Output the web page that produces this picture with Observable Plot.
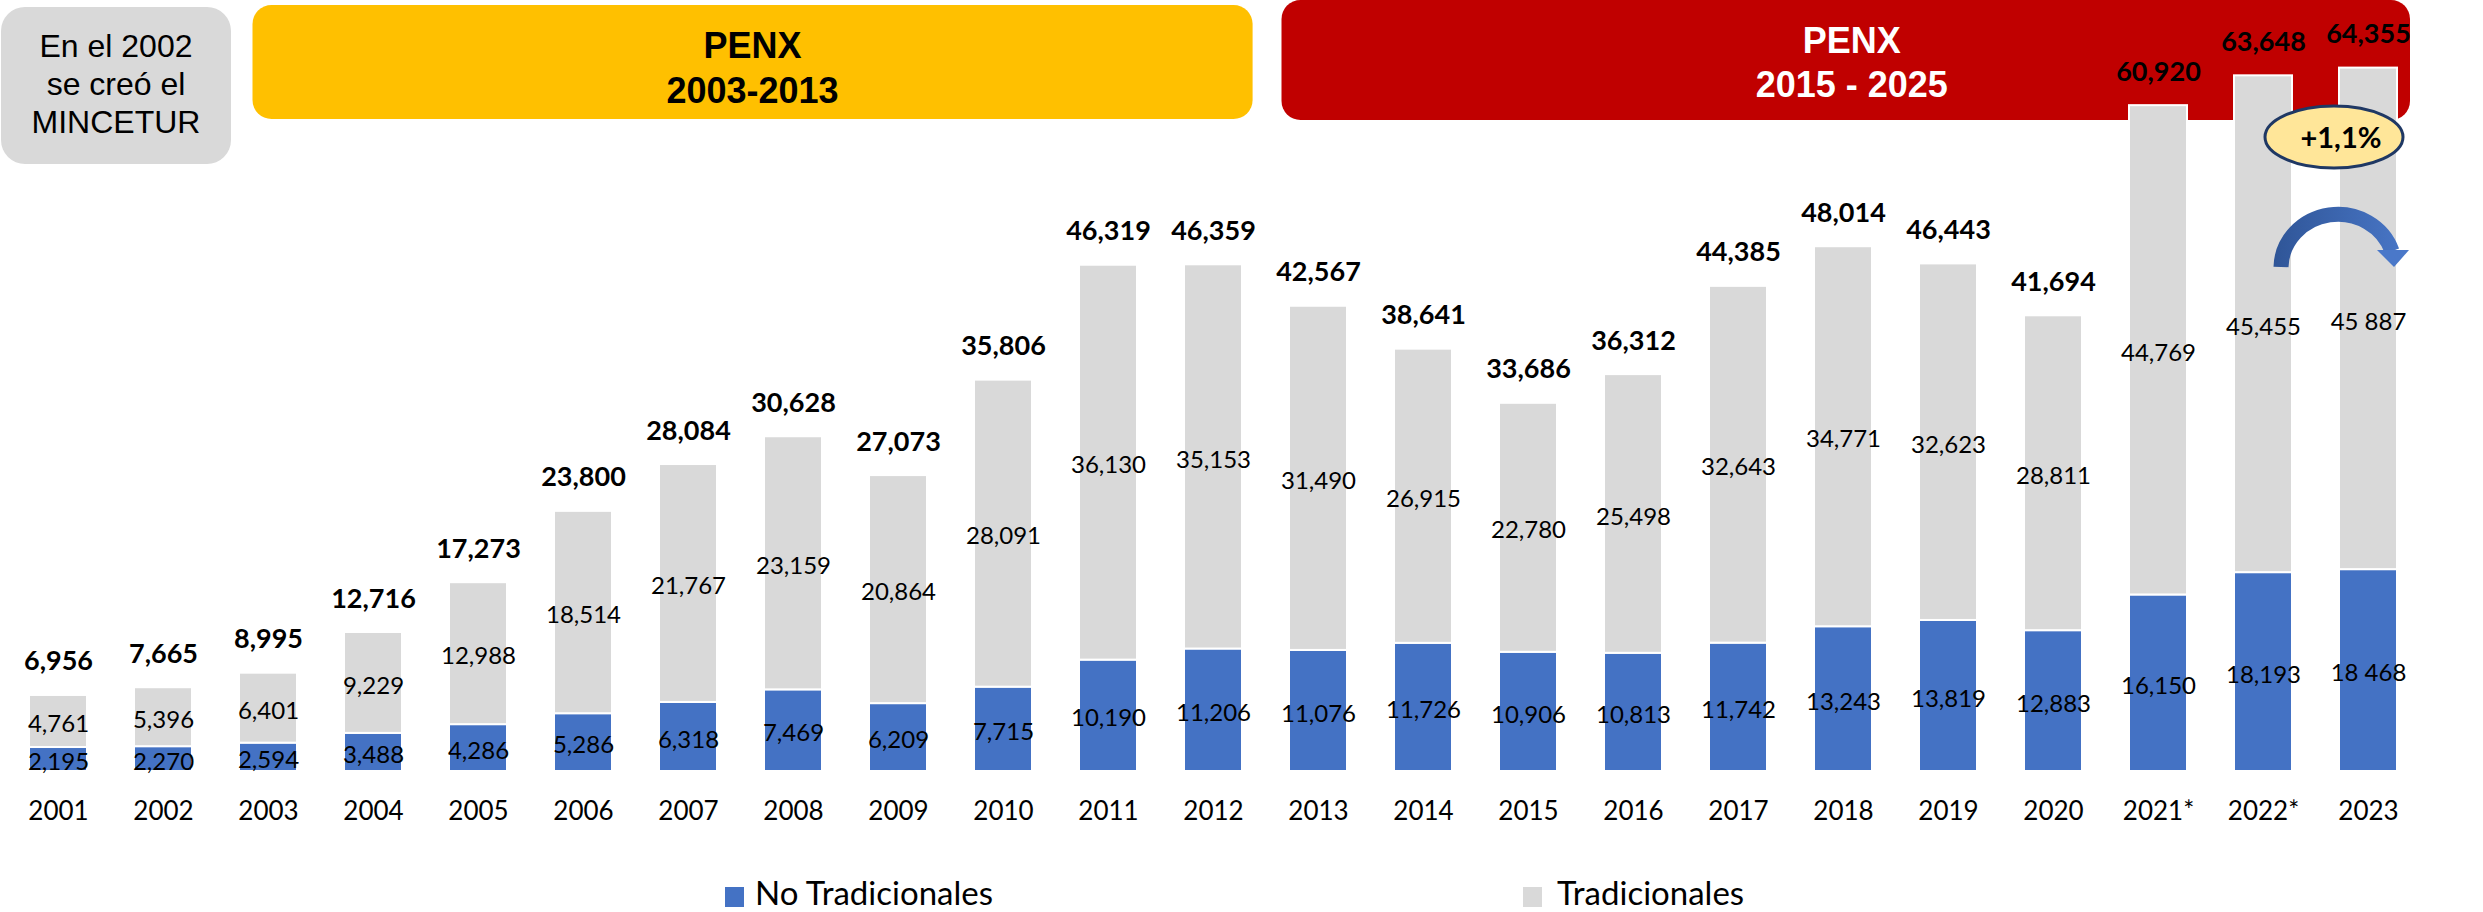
<!DOCTYPE html>
<html><head><meta charset="utf-8">
<script src="https://cdn.jsdelivr.net/npm/d3@7"></script>
<script src="https://cdn.jsdelivr.net/npm/@observablehq/plot@0.6"></script>
<style>
html,body{margin:0;padding:0;background:#fff;}
#wrap{width:2483px;height:912px;position:relative;overflow:hidden;}
#legend{position:relative;width:2483px;height:52px;font-family:Lato, sans-serif;}
.sw{position:absolute;width:19px;height:20px;top:27px;}
.lbl{position:absolute;font-size:33px;line-height:33px;top:16px;white-space:nowrap;color:#000;}
</style></head><body><div id="wrap"></div>
<script>
// ---- data ----
const years = ["2001","2002","2003","2004","2005","2006","2007","2008","2009","2010","2011","2012","2013","2014","2015","2016","2017","2018","2019","2020","2021*","2022*","2023"];
const noTradicionales = [2195,2270,2594,3488,4286,5286,6318,7469,6209,7715,10190,11206,11076,11726,10906,10813,11742,13243,13819,12883,16150,18193,18468];
const tradicionales = [4761,5396,6401,9229,12988,18514,21767,23159,20864,28091,36130,35153,31490,26915,22780,25498,32643,34771,32623,28811,44769,45455,45887];
const totals = [6956,7665,8995,12716,17273,23800,28084,30628,27073,35806,46319,46359,42567,38641,33686,36312,44385,48014,46443,41694,60920,63648,64355];
const seriesNames = ["No Tradicionales","Tradicionales"];
const spaceSeparatedYears = ["2023"];
const note = ["En el 2002","se creó el","MINCETUR"];
const periods = [
  {title:"PENX", range:"2003-2013", from:"2003", to:"2012"},
  {title:"PENX", range:"2015 - 2025", from:"2013", to:"2023"}
];
const changeLabel = "+1,1%";

// ---- styles ----
const colors = ["#4472C4","#D9D9D9"];
const fmt = d3.format(",");
const label = (year, v) => spaceSeparatedYears.includes(year) ? fmt(v).replace(/,/g," ") : fmt(v);

const rows = [];
years.forEach((yr,i)=>{
  rows.push({year:yr, series:seriesNames[0], value:noTradicionales[i], mid:noTradicionales[i]/2, label:label(yr,noTradicionales[i])});
  rows.push({year:yr, series:seriesNames[1], value:tradicionales[i], mid:noTradicionales[i]+tradicionales[i]/2, label:label(yr,tradicionales[i])});
});
const totalRows = years.map((yr,i)=>({year:yr, total:totals[i], label:fmt(totals[i])}));

function bandInfo(scales){
  const sx = scales.x;
  const bw = typeof sx.bandwidth === "function" ? sx.bandwidth() : sx.bandwidth;
  return {sx, bw};
}

function backAnnotations(index, scales){
  const {sx, bw} = bandInfo(scales);
  const g = d3.create("svg:g");
  // MINCETUR note
  const nx0 = sx(years[0]) - 28, nx1 = sx(years[1]) + bw + 39;
  g.append("rect").attr("x",nx0).attr("y",7).attr("width",nx1-nx0).attr("height",157)
    .attr("rx",24).attr("fill","#D9D9D9");
  note.forEach((t,i)=>{
    g.append("text").attr("x",(nx0+nx1)/2).attr("y",57+i*38).attr("text-anchor","middle")
      .attr("font-family","'Liberation Sans', Arial, sans-serif").attr("font-size",32).attr("fill","#000").text(t);
  });
  const styles = [
    {fill:"#FFC000", color:"#000", dx0:13.5, dx1:10.6, y0:5, y1:119, b1:58, b2:103},
    {fill:"#C00000", color:"#fff", dx0:-7.5, dx1:13, y0:0, y1:120, b1:53, b2:97}
  ];
  periods.forEach((p,i)=>{
    const s = styles[i];
    const x0 = sx(p.from) + s.dx0, x1 = sx(p.to) + bw + s.dx1;
    g.append("rect").attr("x",x0).attr("y",s.y0).attr("width",x1-x0).attr("height",s.y1-s.y0)
      .attr("rx",19).attr("fill",s.fill);
    const cx = (x0+x1)/2 + (i===1?6:0);
    [[p.title,s.b1],[p.range,s.b2]].forEach(([t,b])=>{
      g.append("text").attr("x",cx).attr("y",b).attr("text-anchor","middle")
        .attr("font-family","'Liberation Sans', Arial, sans-serif").attr("font-weight","bold")
        .attr("font-size",36).attr("fill",s.color).text(t);
    });
  });
  return g.node();
}

function frontAnnotations(index, scales){
  const {sx, bw} = bandInfo(scales);
  const c = sx(years[years.length-1]) + bw/2;
  const g = d3.create("svg:g");
  const defs = g.append("defs");
  const grad = defs.append("linearGradient").attr("id","arrowGrad")
    .attr("gradientUnits","userSpaceOnUse").attr("x1",c-95).attr("x2",c+45).attr("y1",0).attr("y2",0);
  grad.append("stop").attr("offset","0%").attr("stop-color","#2F5597");
  grad.append("stop").attr("offset","100%").attr("stop-color","#4A78C9");
  // badge
  g.append("ellipse").attr("cx",c-34).attr("cy",137).attr("rx",69).attr("ry",31)
    .attr("fill","#FFE699").attr("stroke","#1F3864").attr("stroke-width",3);
  g.append("text").attr("x",c-27).attr("y",148).attr("text-anchor","middle")
    .attr("font-family","Lato, sans-serif").attr("font-weight","bold").attr("font-size",29)
    .attr("fill","#000").text(changeLabel);
  // curved arrow
  const ax = c - 30;
  g.append("path").attr("d",`M${ax-57},267 A57 54 0 0 1 ${ax+54},251`)
    .attr("fill","none").attr("stroke","url(#arrowGrad)").attr("stroke-width",15);
  g.append("path").attr("d",`M${ax+39},250 L${ax+71},250 L${ax+56},267 Z`).attr("fill","#4A78C9");
  return g.node();
}

const plot = Plot.plot({
  width: 2483, height: 860,
  marginTop: 0, marginLeft: 7, marginRight: 64, marginBottom: 89,
  style: {fontFamily: "Lato, sans-serif", fontSize: "26px", color: "#000", background: "transparent", overflow: "visible"},
  x: {domain: years, paddingInner: 0.448, paddingOuter: 0.2, label: null, tickSize: 0, tickPadding: 30},
  y: {domain: [0, 70540], axis: null},
  color: {domain: seriesNames, range: colors},
  marks: [
    backAnnotations,
    Plot.barY(rows, {x: "year", y: "value", fill: "series", stroke: "white", strokeWidth: 2}),
    Plot.text(rows, {x: "year", y: "mid", text: "label", fontSize: 24, dy: 3, fill: "#000"}),
    Plot.text(totalRows, {x: "year", y: "total", text: "label", fontWeight: "bold", fontSize: 27, lineAnchor: "bottom", dy: -25, fill: "#000"}),
    frontAnnotations
  ]
});
const wrap = document.getElementById("wrap");
wrap.appendChild(plot);
const legend = document.createElement("div");
legend.id = "legend";
const legendPos = [[725,755],[1523,1557]];
seriesNames.forEach((n,i)=>{
  const sw = document.createElement("div"); sw.className="sw"; sw.style.left=legendPos[i][0]+"px"; sw.style.background=colors[i];
  const lb = document.createElement("div"); lb.className="lbl"; lb.style.left=legendPos[i][1]+"px"; lb.textContent=n;
  legend.appendChild(sw); legend.appendChild(lb);
});
wrap.appendChild(legend);
</script></body></html>
